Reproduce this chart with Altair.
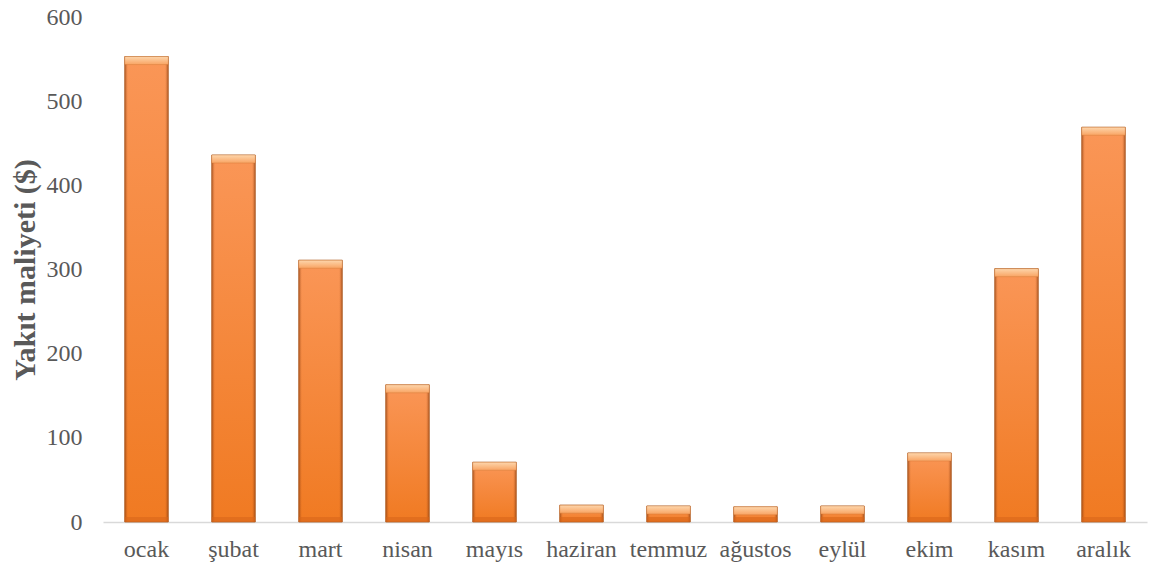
import altair as alt
import pandas as pd

months = ["ocak", "şubat", "mart", "nisan", "mayıs", "haziran",
          "temmuz", "ağustos", "eylül", "ekim", "kasım", "aralık"]
fuel_cost = [553, 436, 311, 163, 71, 20, 19, 18, 19, 82, 301, 469]

df = pd.DataFrame({"ay": months, "maliyet": fuel_cost})
# bevel depths in data units (about 8 px on top, 5 px at the bottom)
df["ust"] = df["maliyet"] - 9.5
df["alt_ust"] = 6.0
df["sifir"] = 0.0

FONT = "Liberation Serif"
GREY = "#595959"

x_enc = alt.X("ay:N", sort=months, title=None,
              scale=alt.Scale(paddingInner=0.5, paddingOuter=0.25),
              axis=alt.Axis(labelAngle=0, labelFont=FONT, labelFontSize=24,
                            labelColor=GREY, labelPadding=15, ticks=False,
                            domainColor="#D9D9D9", domainWidth=1.5))
y_scale = alt.Scale(domain=[0, 600])

base = alt.Chart(df)

body = base.mark_bar(
    fill=alt.Gradient(gradient="linear", x1=0, y1=0, x2=0, y2=1,
                      stops=[alt.GradientStop(offset=0, color="#FA9657"),
                             alt.GradientStop(offset=1, color="#F07A22")]),
    stroke="#A95A22", strokeWidth=1, strokeOpacity=0.8,
).encode(
    x=x_enc,
    y=alt.Y("maliyet:Q", scale=y_scale, title="Yakıt maliyeti ($)",
            axis=alt.Axis(values=[0, 100, 200, 300, 400, 500, 600],
                          labelFont=FONT, labelFontSize=24, labelColor=GREY,
                          labelPadding=21, ticks=False, domain=False, grid=False,
                          titleFont=FONT, titleFontSize=30, titleFontWeight="bold",
                          titleColor=GREY, titlePadding=6)),
)

# darker side edges of each bar
sides = base.mark_bar(
    fill=alt.Gradient(gradient="linear", x1=0, y1=0, x2=1, y2=0,
                      stops=[alt.GradientStop(offset=0, color="rgba(140,60,15,0.55)"),
                             alt.GradientStop(offset=0.07, color="rgba(140,60,15,0)"),
                             alt.GradientStop(offset=0.93, color="rgba(140,60,15,0)"),
                             alt.GradientStop(offset=1, color="rgba(140,60,15,0.55)")]),
).encode(x=alt.X("ay:N", sort=months), y=alt.Y("maliyet:Q", scale=y_scale))

top_bevel = base.mark_bar(
    fill=alt.Gradient(gradient="linear", x1=0, y1=0, x2=0, y2=1,
                      stops=[alt.GradientStop(offset=0, color="#FDD6AC"),
                             alt.GradientStop(offset=1, color="#F9A463")]),
    stroke="#C9742F", strokeWidth=0.6, strokeOpacity=0.6,
).encode(x=alt.X("ay:N", sort=months), y=alt.Y("maliyet:Q", scale=y_scale),
         y2="ust:Q")

bottom_bevel = base.mark_bar(fill="#D8661A", opacity=0.6).encode(
    x=alt.X("ay:N", sort=months), y=alt.Y("alt_ust:Q", scale=y_scale),
    y2="sifir:Q")

chart = alt.layer(body, sides, bottom_bevel, top_bevel).properties(
    width=1044, height=505,
    autosize=alt.AutoSizeParams(type="none"),
    padding={"left": 103, "top": 17, "right": 8, "bottom": 46},
).configure_view(stroke=None)

chart.save("out.html", embed_options={"renderer": "svg", "actions": False})
